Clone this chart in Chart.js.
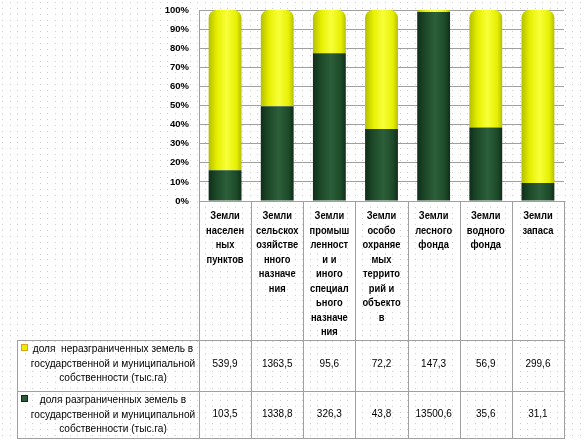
<!DOCTYPE html>
<html>
<head>
<meta charset="utf-8">
<script src="https://cdn.jsdelivr.net/npm/chart.js@4.4.1/dist/chart.umd.min.js"></script>
<style>
    html, body { margin: 0; padding: 0; background: #fff; }
    #wrap { width: 586px; height: 441px; }
</style>
</head>
<body>
<div id="wrap"><canvas id="landChart" width="586" height="441"></canvas></div>
<script>
// Категории земель (с переносами, как в таблице)
const categories = [
    ['Земли', 'населен', 'ных', 'пунктов'],
    ['Земли', 'сельскох', 'озяйстве', 'нного', 'назначе', 'ния'],
    ['Земли', 'промыш', 'ленност', 'и и', 'иного', 'специал', 'ьного', 'назначе', 'ния'],
    ['Земли', 'особо', 'охраняе', 'мых', 'террито', 'рий и', 'объекто', 'в'],
    ['Земли', 'лесного', 'фонда'],
    ['Земли', 'водного', 'фонда'],
    ['Земли', 'запаса']
];

// Названия рядов
const undelimitedName = ['доля  неразграниченных земель в', 'государственной и муниципальной', 'собственности (тыс.га)'];
const delimitedName = ['доля разграниченных земель в', 'государственной и муниципальной', 'собственности (тыс.га)'];

// Значения (тыс.га)
const undelimited = [539.9, 1363.5, 95.6, 72.2, 147.3, 56.9, 299.6];
const delimited = [103.5, 1338.8, 326.3, 43.8, 13500.6, 35.6, 31.1];

// Подписи шкалы
const yTicks = [0, 10, 20, 30, 40, 50, 60, 70, 80, 90, 100];

// Доли в процентах (нормированная гистограмма)
const delimitedPct = delimited.map((v, i) => v / (v + undelimited[i]) * 100);
const undelimitedPct = undelimited.map((v, i) => v / (v + delimited[i]) * 100);

const BAR_PCT = 0.63;
const LINE_COLOR = '#a0a0a0';
const TEXT_FONT = '"Liberation Sans", Arial, sans-serif';

function fmt(v) {
    return v.toFixed(1).replace('.', ',');
}

// Текст, сжатый по ширине (под узкий шрифт оригинала)
function narrowText(ctx, text, x, y, sx) {
    ctx.save();
    ctx.translate(x, y);
    ctx.scale(sx, 1);
    ctx.fillText(text, 0, 0);
    ctx.restore();
}

// Цилиндрическая заливка столбца
function barFill(context, edge, mid, center) {
    const chart = context.chart;
    const xScale = chart.scales.x;
    if (!chart.chartArea || !xScale || context.dataIndex === undefined) return mid;
    const cx = xScale.getPixelForValue(context.dataIndex);
    const half = chart.chartArea.width / categories.length * BAR_PCT / 2;
    const g = chart.ctx.createLinearGradient(cx - half, 0, cx + half, 0);
    g.addColorStop(0, edge);
    g.addColorStop(0.25, mid);
    g.addColorStop(0.55, center);
    g.addColorStop(0.85, mid);
    g.addColorStop(1, edge);
    return g;
}

// Фон в точку
const dotBackground = {
    id: 'dotBackground',
    beforeDraw(chart) {
        const ctx = chart.ctx;
        ctx.save();
        ctx.fillStyle = '#fff';
        ctx.fillRect(0, 0, chart.width, chart.height);
        ctx.fillStyle = '#cdcdcd';
        for (let y = 2; y < chart.height; y += 5.85) {
            for (let x = 2; x < chart.width; x += 7.5) {
                ctx.fillRect(Math.round(x), Math.round(y), 1, 1);
            }
        }
        ctx.restore();
    }
};

// Таблица данных под диаграммой
const dataTable = {
    id: 'dataTable',
    afterDraw(chart) {
        const ctx = chart.ctx;
        const area = chart.chartArea;
        const colW = area.width / categories.length;
        const top = area.bottom;
        const row1 = 340, row2 = 391, bottom = 438, tableLeft = 17;

        ctx.save();
        ctx.strokeStyle = LINE_COLOR;
        ctx.lineWidth = 1;
        ctx.beginPath();
        for (let k = 0; k <= categories.length; k++) {
            const x = Math.round(area.left + k * colW) + 0.5;
            ctx.moveTo(x, top);
            ctx.lineTo(x, bottom);
        }
        [top, row1, row2, bottom].forEach((y, i) => {
            ctx.moveTo(i === 0 ? area.left : tableLeft, y + 0.5);
            ctx.lineTo(area.right + 1, y + 0.5);
        });
        ctx.moveTo(tableLeft + 0.5, row1);
        ctx.lineTo(tableLeft + 0.5, bottom);
        ctx.stroke();

        ctx.fillStyle = '#000';
        ctx.textAlign = 'center';
        ctx.textBaseline = 'middle';

        // Заголовки категорий
        ctx.font = 'bold 11px ' + TEXT_FONT;
        categories.forEach((lines, i) => {
            const cx = area.left + (i + 0.5) * colW;
            lines.forEach((line, j) => narrowText(ctx, line, cx, 216 + j * 14.5, 0.85));
        });

        // Подписи рядов
        ctx.font = '11px ' + TEXT_FONT;
        undelimitedName.forEach((line, j) => narrowText(ctx, line, 113, 349 + j * 14.5, 0.92));
        delimitedName.forEach((line, j) => narrowText(ctx, line, 113, 400 + j * 14.5, 0.92));

        // Значения
        undelimited.forEach((v, i) => narrowText(ctx, fmt(v), area.left + (i + 0.5) * colW, 364, 0.91));
        delimited.forEach((v, i) => narrowText(ctx, fmt(v), area.left + (i + 0.5) * colW, 414, 0.91));

        // Маркеры легенды
        ctx.fillStyle = '#e1a21b';
        ctx.fillRect(21, 344, 7, 7);
        ctx.fillStyle = '#e8f000';
        ctx.fillRect(22, 345, 5, 5);
        ctx.fillStyle = '#0d2b15';
        ctx.fillRect(21, 395, 7, 7);
        ctx.fillStyle = '#2a5c38';
        ctx.fillRect(22, 396, 5, 5);
        ctx.restore();
    }
};

function initChart() {
    const ctx = document.getElementById('landChart').getContext('2d');
    new Chart(ctx, {
        type: 'bar',
        data: {
            labels: categories,
            datasets: [{
                label: delimitedName.join(' '),
                data: delimitedPct,
                backgroundColor: c => barFill(c, '#0f2e19', '#1d4a29', '#2d5f3a'),
                borderWidth: 0,
                barPercentage: BAR_PCT,
                categoryPercentage: 1
            }, {
                label: undelimitedName.join(' '),
                data: undelimitedPct,
                backgroundColor: c => barFill(c, '#b5bf00', '#e6ef00', '#f8ff3a'),
                borderWidth: 0,
                borderRadius: { topLeft: 8, topRight: 8, bottomLeft: 0, bottomRight: 0 },
                borderSkipped: 'start',
                barPercentage: BAR_PCT,
                categoryPercentage: 1
            }]
        },
        options: {
            responsive: false,
            animation: false,
            layout: {
                padding: { left: 0, right: 22, top: 10, bottom: 240 }
            },
            plugins: {
                legend: { display: false },
                tooltip: { enabled: false }
            },
            scales: {
                x: {
                    stacked: true,
                    display: false
                },
                y: {
                    stacked: true,
                    min: yTicks[0],
                    max: yTicks[yTicks.length - 1],
                    afterBuildTicks: scale => {
                        scale.ticks = yTicks.map(v => ({ value: v }));
                    },
                    afterFit: scale => {
                        scale.width = 199;
                        scale.paddingTop = 0;
                        scale.paddingBottom = 0;
                    },
                    border: { display: true, color: LINE_COLOR, width: 1 },
                    grid: {
                        color: LINE_COLOR,
                        lineWidth: 1,
                        drawTicks: false
                    },
                    ticks: {
                        padding: 10,
                        color: '#000',
                        font: { family: TEXT_FONT, size: 9.5, weight: 'bold' },
                        callback: v => v + '%'
                    }
                }
            }
        },
        plugins: [dotBackground, dataTable]
    });
}

document.addEventListener('DOMContentLoaded', initChart);
</script>
</body>
</html>
